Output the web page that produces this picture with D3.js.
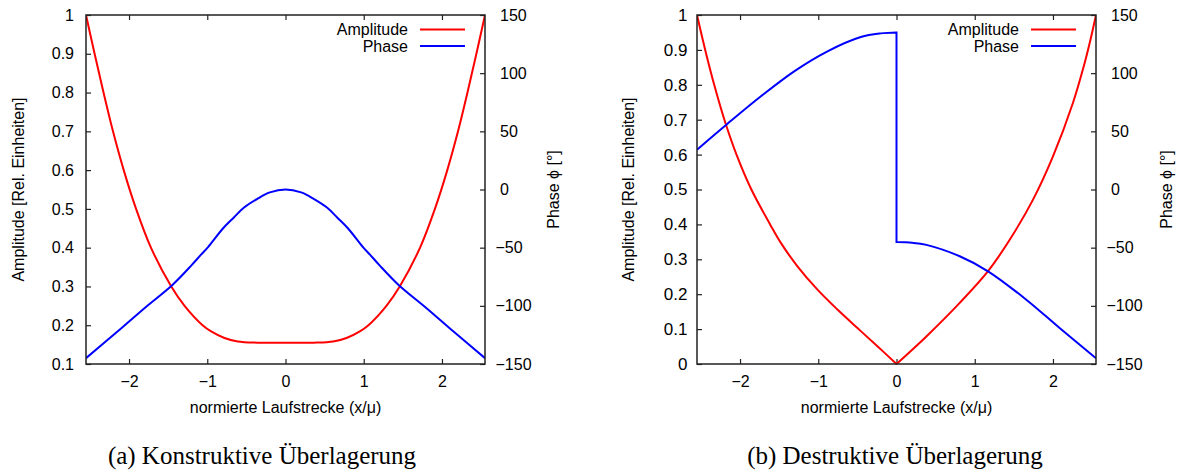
<!DOCTYPE html>
<html><head><meta charset="utf-8">
<script src="https://cdn.jsdelivr.net/npm/d3@7"></script>
<style>
body{margin:0;background:#fff}
svg{display:block}
text{font-family:"Liberation Sans",Arial,sans-serif;fill:#000}
</style>
</head><body>
<svg id="chart" width="1178" height="472"></svg>
<script>
// ---------- data ----------
const xDomain = [-2.55, 2.55];
const xTicks = [-2, -1, 0, 1, 2];
const ampTicksA = [0.1, 0.2, 0.3, 0.4, 0.5, 0.6, 0.7, 0.8, 0.9, 1];
const ampTicksB = [0, 0.1, 0.2, 0.3, 0.4, 0.5, 0.6, 0.7, 0.8, 0.9, 1];
const phaseTicks = [-150, -100, -50, 0, 50, 100, 150];
const seriesNames = ["Amplitude", "Phase"];
const captions = ["(a) Konstruktive \u00dcberlagerung", "(b) Destruktive \u00dcberlagerung"];
const xLabel = "normierte Laufstrecke (x/\u03bc)";
const yLabel = "Amplitude [Rel. Einheiten]";
const y2Label = "Phase \u03d5 [\u00b0]";

// (a) constructive
const constrAmpX = [-2.55, -2.44, -2.326, -2.205, -2.068, -1.91, -1.72, -1.46, -1.29, -1.06, -0.95, -0.78, -0.61, -0.36, 0,
                    0.36, 0.61, 0.78, 0.95, 1.06, 1.29, 1.46, 1.72, 1.91, 2.068, 2.205, 2.326, 2.44, 2.55];
const constrAmp  = [1.0, 0.9, 0.8, 0.7, 0.6, 0.5, 0.4, 0.3, 0.25, 0.2, 0.184, 0.167, 0.158, 0.155, 0.155,
                    0.155, 0.158, 0.167, 0.184, 0.2, 0.25, 0.3, 0.4, 0.5, 0.6, 0.7, 0.8, 0.9, 1.0];
const constrPhaseX = [-2.55, -2.144, -1.803, -1.442, -1.2, -1.08, -0.99, -0.8, -0.66, -0.53, -0.36, -0.2, 0,
                      0.2, 0.36, 0.53, 0.66, 0.8, 0.99, 1.08, 1.2, 1.442, 1.803, 2.144, 2.55];
const constrPhase  = [-145, -121.9, -102, -81.8, -65, -56, -49.5, -33.5, -24, -15.5, -8, -2.5, 0,
                      -2.5, -8, -15.5, -24, -33.5, -49.5, -56, -65, -81.8, -102, -121.9, -145];

// (b) destructive
const destrAmpX = [-2.55, -2.445, -2.33, -2.2, -2.045, -1.855, -1.615, -1.478, -1.266, -1.01, -0.755, -0.499, -0.244, 0,
                   0.382, 0.808, 1.17, 1.447, 1.745, 2.0, 2.255, 2.39, 2.48, 2.55];
const destrAmp  = [1.0, 0.9, 0.8, 0.7, 0.6, 0.5, 0.4, 0.347, 0.28, 0.213, 0.156, 0.103, 0.051, 0,
                   0.079, 0.175, 0.266, 0.356, 0.471, 0.595, 0.748, 0.85, 0.93, 1.0];
const destrPhaseLeftX = [-2.55, -2.16, -1.733, -1.308, -0.882, -0.456, -0.2, 0];
const destrPhaseLeft  = [34.2, 56.5, 80.1, 101.6, 118.8, 131.1, 134.2, 135];
const destrPhaseRightX = [0, 0.2, 0.382, 0.808, 1.17, 1.659, 2.085, 2.55];
const destrPhaseRight  = [-45.2, -45.8, -47.6, -57.4, -70.3, -94.7, -119.1, -145];

// ---------- drawing ----------
const svg = d3.select("#chart");
const zip = (xs, ys) => xs.map((x, i) => ({x, y: ys[i]}));

const panels = [
  {l: 86, r: 485, t: 15, b: 364, yDom: [0.1, 1], yTicks: ampTicksA, yFont: 16, yPad: 12, yLabelX: 18.5, y2LabelX: 553, cap: captions[0], capX: 262,
   amp: [zip(constrAmpX, constrAmp)], phase: [zip(constrPhaseX, constrPhase)]},
  {l: 697, r: 1096, t: 15, b: 364, yDom: [0, 1], yTicks: ampTicksB, yFont: 17, yPad: 9.5, yLabelX: 628.5, y2LabelX: 1166, cap: captions[1], capX: 895,
   amp: [zip(destrAmpX, destrAmp).filter(d => d.x <= 0), zip(destrAmpX, destrAmp).filter(d => d.x >= 0)],
   phase: [zip(destrPhaseLeftX, destrPhaseLeft), zip(destrPhaseRightX, destrPhaseRight)]}
];

const fmt = d3.format("~g");

panels.forEach((p, pi) => {
  const g = svg.append("g");
  const x = d3.scaleLinear().domain(xDomain).range([p.l, p.r]);
  const y = d3.scaleLinear().domain(p.yDom).range([p.b, p.t]);
  const y2 = d3.scaleLinear().domain([-150, 150]).range([p.b, p.t]);

  const clipId = "clip" + pi;
  svg.append("clipPath").attr("id", clipId).append("rect")
    .attr("x", p.l).attr("y", p.t - 1).attr("width", p.r - p.l).attr("height", p.b - p.t + 2);

  const ax = (sel) => { sel.select(".domain").remove(); sel.selectAll(".tick line").attr("stroke", "#222").attr("stroke-width", 1.2); };

  g.append("g").attr("transform", `translate(0,${p.b})`)
    .call(d3.axisBottom(x).tickValues(xTicks).tickSize(-5).tickPadding(12).tickFormat(fmt))
    .call(ax).selectAll("text").attr("font-size", 16).attr("font-family", "Liberation Sans, Arial, sans-serif");
  g.append("g").attr("transform", `translate(0,${p.t})`)
    .call(d3.axisTop(x).tickValues(xTicks).tickSize(-5).tickFormat(""))
    .call(ax);
  g.append("g").attr("transform", `translate(${p.l},0)`)
    .call(d3.axisLeft(y).tickValues(p.yTicks).tickSize(-5).tickPadding(p.yPad).tickFormat(fmt))
    .call(ax).selectAll("text").attr("font-size", p.yFont).attr("font-family", "Liberation Sans, Arial, sans-serif");
  const ra = g.append("g").attr("transform", `translate(${p.r},0)`)
    .call(d3.axisRight(y2).tickValues(phaseTicks).tickSize(-5).tickPadding(15).tickFormat(fmt))
    .call(ax);
  ra.selectAll("text").attr("font-size", 16).attr("font-family", "Liberation Sans, Arial, sans-serif")
    .attr("dx", d => d < 0 ? -4.5 : 0);

  // curves
  const joinPaths = (segs, yScale) => {
    const line = d3.line().x(d => x(d.x)).y(d => yScale(d.y)).curve(d3.curveCatmullRom.alpha(0.5));
    return segs.map((s, i) => { const s0 = line(s); return i === 0 ? s0 : s0.replace(/^M/, "L"); }).join("");
  };
  const plot = g.append("g").attr("clip-path", `url(#${clipId})`);
  plot.append("path").attr("d", joinPaths(p.amp, y))
    .attr("fill", "none").attr("stroke", "#ff0000").attr("stroke-width", 2).attr("stroke-linejoin", "round");
  plot.append("path").attr("d", joinPaths(p.phase, y2))
    .attr("fill", "none").attr("stroke", "#0000ff").attr("stroke-width", 2).attr("stroke-linejoin", "miter");

  // frame
  g.append("rect").attr("x", p.l).attr("y", p.t).attr("width", p.r - p.l).attr("height", p.b - p.t)
    .attr("fill", "none").attr("stroke", "#222").attr("stroke-width", 1.5);

  // legend
  const colors = ["#ff0000", "#0000ff"];
  seriesNames.forEach((name, i) => {
    const ly = 29.5 + i * 16.5;
    g.append("text").attr("x", p.r - 77).attr("y", ly).attr("dy", "0.35em")
      .attr("text-anchor", "end").attr("font-size", 16).text(name);
    g.append("line").attr("x1", p.r - 65).attr("x2", p.r - 20).attr("y1", ly).attr("y2", ly)
      .attr("stroke", colors[i]).attr("stroke-width", 2);
  });

  // axis titles
  const cy = (p.t + p.b) / 2;
  g.append("text").attr("x", (p.l + p.r) / 2).attr("y", 407).attr("dy", "0.35em")
    .attr("text-anchor", "middle").attr("font-size", 16).text(xLabel);
  g.append("text").attr("transform", `translate(${p.yLabelX},${cy}) rotate(-90)`).attr("dy", "0.35em")
    .attr("text-anchor", "middle").attr("font-size", 16).text(yLabel);
  g.append("text").attr("transform", `translate(${p.y2LabelX},${cy}) rotate(-90)`).attr("dy", "0.35em")
    .attr("text-anchor", "middle").attr("font-size", 16).text(y2Label);

  // caption
  g.append("text").attr("x", p.capX).attr("y", 464).attr("text-anchor", "middle")
    .attr("font-size", 25).style("font-family", "'Liberation Serif','Times New Roman',serif").text(p.cap);
});
</script>
</body></html>
